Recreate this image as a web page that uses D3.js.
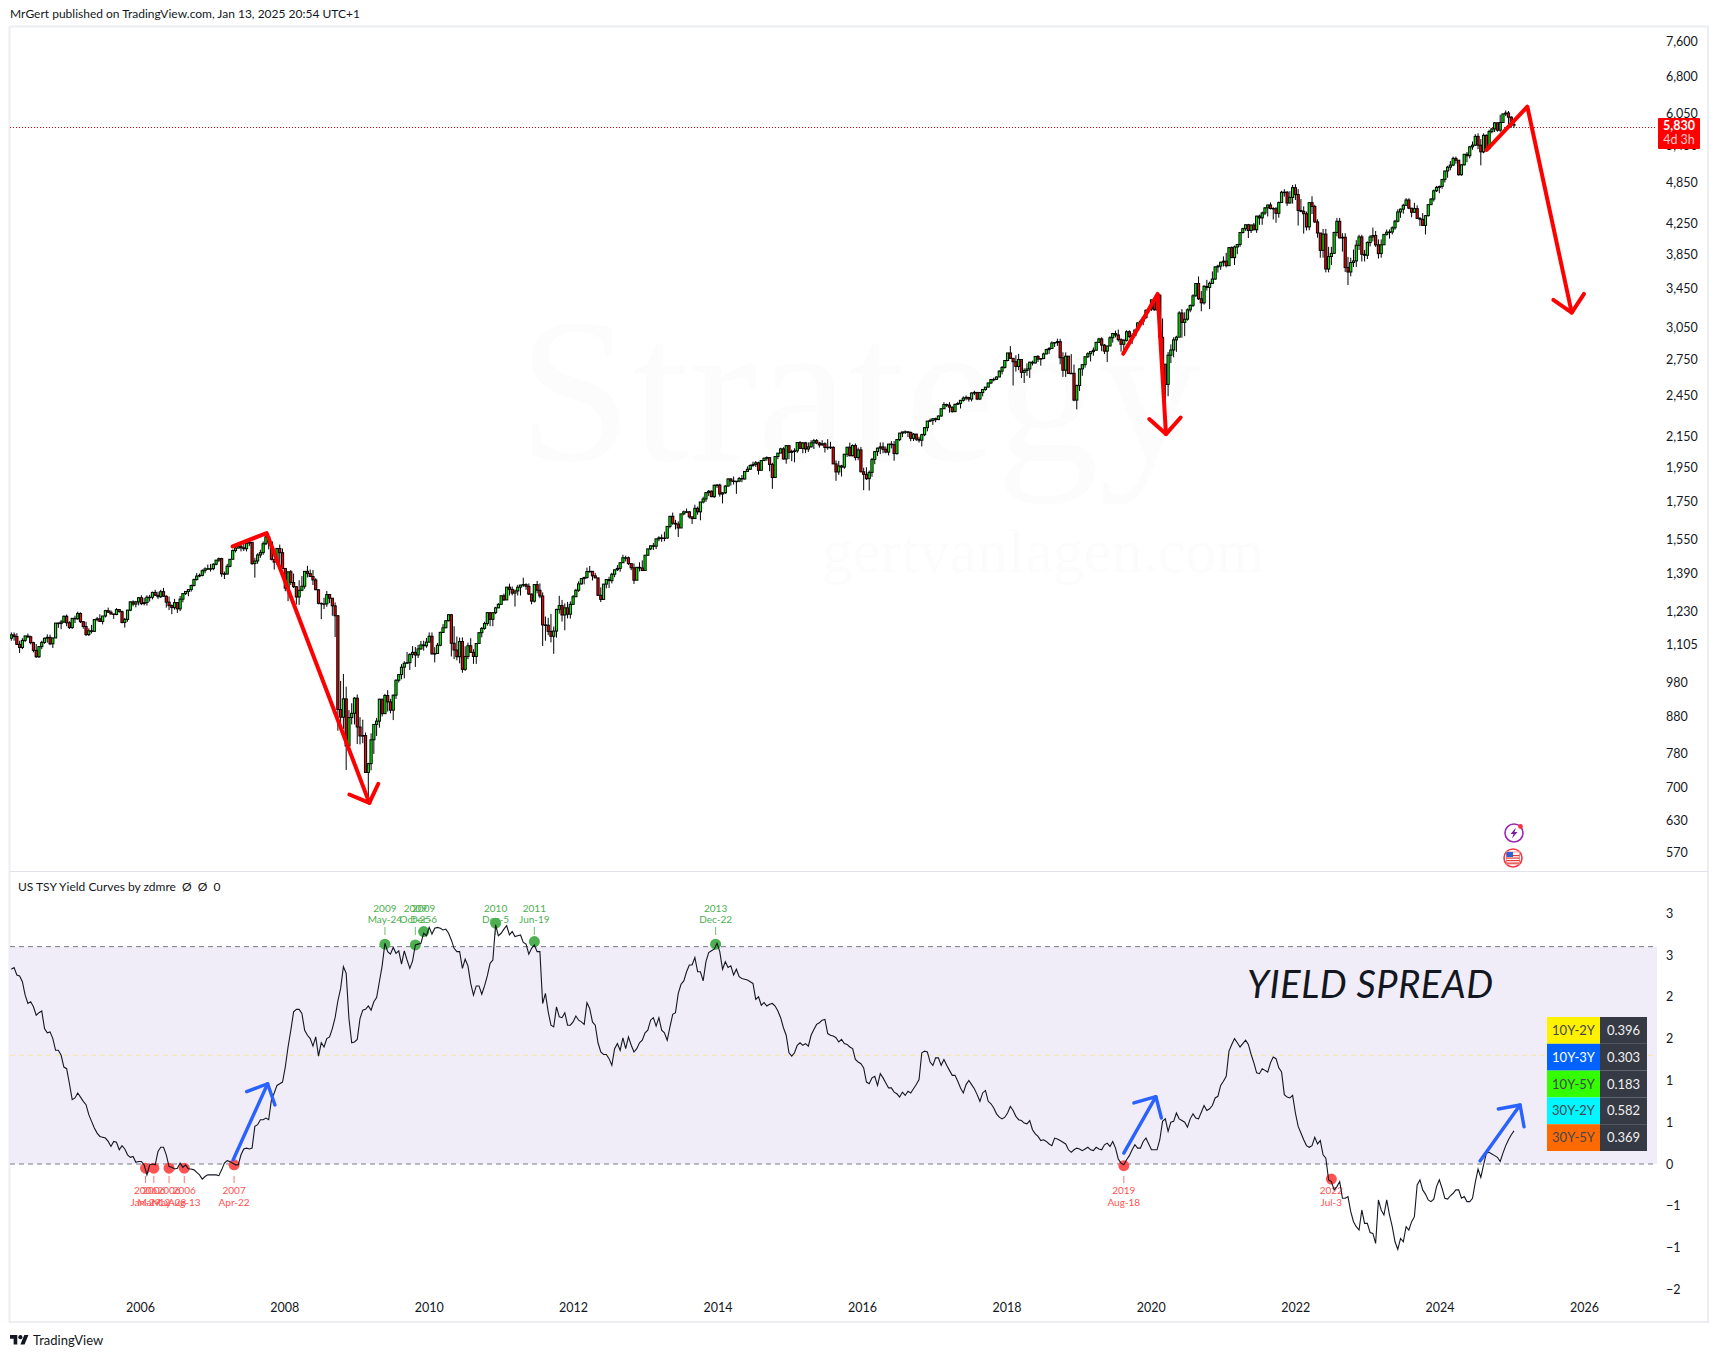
<!DOCTYPE html>
<html>
<head>
<meta charset="utf-8">
<script src="https://cdn.jsdelivr.net/npm/d3@7"></script>
<style>
  html, body { margin: 0; padding: 0; background: #fff; }
  text { font-family: Lato, "Noto Sans", sans-serif; }
  .axis text { fill: #131722; font-size: 12.5px; }
</style>
</head>
<body>
<div id="chart"></div>
<script>
// 2W SPX bars, first bar dated 2004-03-21, one row per calendar year
var firstBar = Date.UTC(2004, 2, 21);
var firstOpen = 1129;
var closes = [
1141,1135,1107,1096,1121,1137,1134,1113,1086,1064,1099,1114,1129,1132,1109,1130,1185,1183,1189,1211,1186,
1168,1203,1201,1222,1190,1172,1142,1156,1154,1198,1201,1191,1212,1233,1227,1220,1218,1237,1229,1187,1199,1235,1268,1259,1268,1285,
1261,1265,1287,1287,1307,1295,1289,1310,1291,1267,1253,1245,1265,1240,1279,1302,1311,1319,1336,1362,1377,1380,1401,1409,1410,1410,
1430,1449,1456,1387,1386,1421,1453,1494,1506,1515,1507,1503,1530,1534,1433,1445,1473,1484,1527,1561,1535,1453,1440,1504,1484,1411,
1325,1396,1349,1331,1288,1316,1333,1398,1388,1375,1360,1318,1262,1260,1260,1298,1283,1252,1213,899,877,930,800,876,888,932,
850,826,827,735,756,816,857,866,929,887,940,921,897,941,987,1005,1029,1042,1044,1072,1079,1070,1091,1105,1102,1115,
1136,1074,1075,1104,1150,1167,1194,1217,1111,1087,1064,1117,1022,1065,1102,1079,1065,1110,1149,1165,1183,1225,1199,1225,1244,1258,
1293,1276,1329,1320,1304,1313,1329,1338,1340,1333,1300,1271,1340,1316,1292,1178,1177,1154,1136,1155,1238,1253,1216,1244,1219,1258,
1289,1316,1343,1366,1371,1397,1398,1378,1369,1295,1278,1342,1362,1357,1385,1405,1411,1437,1460,1460,1433,1414,1359,1416,1413,1402,1472,
1502,1517,1515,1551,1556,1553,1555,1614,1667,1630,1626,1606,1680,1691,1691,1664,1655,1710,1691,1745,1762,1798,1806,1775,1841,1842,
1790,1797,1836,1878,1866,1865,1865,1881,1878,1924,1937,1961,1968,1978,1931,1992,2007,2011,1968,1887,2018,2040,2068,2002,2089,2045,
2051,2055,2110,2071,2108,2067,2081,2108,2123,2107,2094,2102,2077,2079,2078,1971,1921,1958,1951,2033,2079,2023,2090,2012,2061,1922,
1906,1880,1918,1999,2050,2073,2081,2065,2047,2100,2096,2037,2130,2175,2183,2184,2180,2139,2168,2133,2126,2164,2213,2260,2264,2277,
2271,2297,2351,2383,2378,2363,2329,2384,2391,2415,2432,2438,2425,2472,2477,2425,2476,2500,2519,2553,2581,2582,2602,2651,2683,2743,
2810,2762,2732,2691,2752,2641,2656,2670,2728,2721,2779,2755,2760,2801,2840,2850,2901,2905,2914,2767,2659,2781,2632,2633,2417,2532,
2670,2707,2776,2803,2822,2834,2907,2939,2881,2826,2873,2950,2990,2976,2932,2889,2926,3007,2961,2970,3023,3093,3110,3146,3221,3235,
3330,3226,3380,2954,2711,2541,2790,2837,2930,2955,3193,3098,3130,3225,3271,3373,3508,3341,3298,3477,3465,3510,3558,3699,3709,3756,
3768,3714,3935,3811,3943,3975,4129,4180,4233,4156,4230,4166,4352,4327,4395,4468,4509,4459,4455,4391,4545,4697,4698,4538,4620,4766,
4662,4432,4419,4385,4204,4543,4488,4272,4123,3901,4109,3675,3825,3863,4130,4280,4058,4067,3693,3640,3752,3771,3965,4072,3852,3840,
3999,4071,4090,3970,3861,3971,4105,4134,4136,4192,4282,4410,4450,4505,4582,4464,4406,4457,4320,4308,4224,4358,4514,4595,4719,4770,4784,
4891,5027,5089,5123,5234,5204,4967,5128,5303,5278,5431,5460,5615,5459,5344,5634,5408,5702,5751,5864,5728,5870,6032,6051,5970,5827,
5830];
var highs = [
1150,1150,1147,1120,1129,1138,1146,1138,1116,1108,1100,1120,1131,1143,1142,1131,1185,1187,1197,1214,1218,
1192,1203,1213,1229,1226,1193,1190,1165,1178,1199,1208,1219,1212,1236,1245,1234,1220,1243,1238,1233,1205,1236,1270,1274,1272,1288,
1295,1285,1295,1297,1310,1318,1310,1318,1326,1295,1290,1258,1280,1266,1292,1303,1312,1319,1340,1366,1390,1388,1407,1416,1429,1431,
1435,1450,1461,1460,1397,1432,1453,1499,1513,1533,1540,1538,1534,1556,1535,1460,1481,1498,1538,1565,1566,1535,1453,1507,1523,1504,
1411,1396,1404,1388,1333,1359,1377,1399,1423,1406,1404,1368,1320,1265,1285,1313,1300,1283,1266,1215,985,1007,967,897,917,935,
943,877,870,835,758,833,857,875,930,930,945,956,930,943,990,1007,1039,1049,1080,1076,1101,1098,1105,1119,1120,1130,
1150,1150,1097,1112,1153,1181,1194,1218,1220,1173,1135,1131,1132,1100,1113,1129,1090,1110,1150,1170,1190,1227,1227,1226,1248,1263,
1294,1302,1330,1344,1332,1319,1339,1339,1370,1346,1345,1302,1340,1356,1345,1307,1210,1205,1220,1172,1240,1293,1276,1262,1268,1270,
1296,1322,1354,1368,1374,1415,1422,1398,1391,1369,1328,1343,1363,1374,1392,1405,1426,1438,1474,1470,1466,1425,1434,1416,1439,1448,1473,
1503,1518,1531,1552,1564,1573,1587,1614,1667,1687,1648,1640,1680,1698,1709,1696,1664,1730,1720,1745,1775,1798,1813,1810,1845,1849,
1850,1798,1842,1883,1883,1893,1865,1891,1902,1924,1955,1968,1985,1989,1985,1992,2011,2019,2010,1978,2019,2041,2075,2079,2094,2093,
2063,2072,2111,2120,2114,2115,2111,2126,2135,2134,2115,2126,2111,2133,2115,2085,1993,1990,1965,2035,2080,2110,2098,2104,2076,2081,
1947,1950,1930,2009,2052,2076,2111,2111,2084,2100,2120,2120,2132,2176,2178,2194,2186,2185,2175,2169,2150,2170,2214,2260,2278,2282,
2285,2301,2352,2401,2390,2401,2367,2391,2403,2416,2446,2453,2440,2478,2490,2475,2481,2500,2519,2555,2582,2597,2607,2658,2695,2743,
2810,2872,2754,2789,2802,2742,2675,2718,2732,2742,2779,2790,2765,2812,2848,2863,2916,2906,2941,2940,2816,2815,2746,2800,2708,2540,
2675,2708,2776,2816,2822,2860,2911,2949,2954,2892,2875,2964,2996,3018,3028,2945,2940,3021,3022,2993,3027,3098,3127,3158,3229,3247,
3330,3338,3394,3394,3138,2700,2818,2888,2954,2969,3211,3233,3200,3240,3280,3390,3510,3588,3425,3490,3550,3530,3646,3708,3725,3760,
3826,3870,3937,3950,3960,3981,4130,4194,4238,4245,4234,4258,4356,4372,4415,4480,4513,4545,4478,4480,4560,4719,4743,4715,4713,4808,
4818,4744,4595,4490,4416,4546,4637,4513,4308,4096,4177,4177,3945,3945,4140,4326,4326,4120,4120,3820,3810,3910,4030,4100,4100,3906,
4015,4095,4195,4150,4040,4040,4110,4169,4170,4212,4300,4448,4458,4527,4608,4607,4464,4540,4505,4340,4394,4365,4522,4610,4738,4793,4800,
4903,5030,5111,5190,5264,5265,5200,5134,5303,5342,5447,5523,5655,5670,5566,5670,5650,5734,5767,5878,5862,6017,6044,6100,6090,5990,
5870];
var lows = [
1120,1120,1105,1077,1090,1115,1129,1107,1079,1060,1060,1090,1109,1113,1104,1094,1130,1167,1162,1185,1173,
1163,1163,1185,1198,1185,1164,1137,1137,1146,1154,1191,1191,1180,1206,1224,1217,1201,1215,1225,1184,1168,1190,1231,1250,1246,1254,
1255,1254,1253,1269,1278,1292,1280,1284,1289,1245,1235,1219,1237,1224,1231,1266,1296,1291,1310,1332,1357,1372,1376,1389,1404,1397,
1403,1425,1440,1374,1364,1384,1416,1452,1485,1504,1490,1492,1490,1515,1427,1370,1432,1460,1474,1520,1500,1448,1406,1427,1435,1411,
1312,1271,1338,1326,1257,1256,1312,1322,1371,1373,1338,1317,1258,1200,1239,1248,1263,1213,1133,840,853,845,741,801,857,857,
805,804,807,735,667,740,780,826,848,879,886,893,888,869,930,980,990,993,1040,1020,1059,1030,1060,1088,1085,1095,
1114,1071,1045,1075,1100,1148,1167,1191,1065,1056,1052,1042,1011,1017,1056,1078,1040,1040,1115,1132,1160,1175,1173,1173,1219,1243,
1256,1272,1276,1294,1295,1249,1294,1294,1330,1318,1296,1258,1265,1303,1283,1101,1120,1140,1114,1074,1131,1221,1191,1158,1203,1202,
1258,1290,1309,1340,1341,1365,1393,1358,1369,1292,1267,1279,1324,1325,1345,1372,1400,1396,1437,1443,1427,1403,1343,1359,1398,1399,1402,
1470,1496,1497,1501,1539,1536,1539,1552,1604,1622,1598,1560,1605,1672,1684,1655,1627,1655,1675,1646,1737,1746,1778,1772,1768,1825,
1775,1737,1790,1835,1839,1845,1791,1859,1859,1875,1925,1936,1952,1952,1905,1932,1990,1990,1925,1820,1886,2001,2040,1999,1972,2001,
1988,1981,2042,2067,2039,2040,2048,2077,2067,2099,2076,2090,2044,2062,2067,1970,1867,1903,1893,1940,2015,2020,2019,1993,1994,1918,
1812,1872,1810,1891,1969,2022,2034,2039,2039,2025,2071,1991,2030,2120,2147,2168,2147,2119,2120,2120,2110,2084,2154,2187,2252,2233,
2252,2267,2292,2350,2364,2322,2323,2328,2379,2353,2405,2415,2405,2407,2455,2417,2417,2446,2491,2520,2544,2566,2582,2605,2624,2673,
2736,2759,2532,2647,2659,2593,2553,2612,2594,2700,2718,2730,2698,2755,2802,2801,2853,2864,2874,2710,2603,2603,2631,2631,2408,2346,
2488,2612,2681,2765,2735,2785,2835,2900,2826,2800,2729,2873,2904,2953,2914,2822,2826,2914,2945,2892,2971,3012,3091,3070,3135,3195,
3215,3215,3214,2855,2480,2192,2447,2720,2771,2820,2969,2950,2965,3116,3200,3255,3364,3329,3210,3280,3430,3233,3510,3550,3633,3664,
3705,3694,3725,3805,3723,3853,3944,4118,4152,4057,4123,4160,4125,4233,4233,4367,4347,4445,4305,4260,4329,4540,4631,4496,4531,4530,
4582,4222,4406,4115,4157,4160,4380,4257,4062,3810,3810,3636,3636,3722,3885,4079,4058,3885,3640,3491,3590,3699,3700,3905,3764,3764,
3794,3950,4015,3945,3800,3810,3980,4090,4050,4104,4166,4265,4328,4385,4515,4449,4336,4400,4315,4217,4216,4104,4346,4510,4560,4700,4682,
4750,4845,4920,5038,5105,5146,4953,4953,5114,5170,5234,5380,5447,5390,5119,5320,5402,5406,5670,5694,5700,5696,5870,5990,5832,5773,
5775];
var spread = [
2.33,2.35,2.26,2.25,2.18,2.02,1.92,1.94,1.88,1.78,1.81,1.83,1.62,1.57,1.58,1.50,1.36,1.36,1.30,1.16,1.14,
0.96,0.77,0.79,0.85,0.80,0.75,0.71,0.59,0.51,0.43,0.37,0.33,0.32,0.31,0.27,0.21,0.27,0.26,0.17,0.22,0.18,0.11,0.08,0.09,0.02,0.03,
0.03,-0.01,-0.13,-0.01,0,-0.01,0.15,0.20,0.20,0.11,-0.03,-0.04,-0.06,-0.05,0.01,-0.04,-0.01,-0.06,-0.06,-0.07,-0.10,-0.13,-0.18,-0.15,-0.13,-0.13,
-0.13,-0.13,-0.14,-0.07,0.01,0.04,0.03,0.01,-0.01,-0.01,0.11,0.18,0.19,0.18,0.19,0.45,0.47,0.53,0.53,0.55,0.53,0.77,0.85,0.94,0.96,0.98,
1.16,1.40,1.60,1.82,1.85,1.85,1.80,1.60,1.54,1.50,1.41,1.52,1.29,1.45,1.40,1.50,1.52,1.62,1.75,1.95,2.10,2.36,2.28,1.74,1.45,1.46,
1.49,1.74,1.84,1.85,1.89,1.84,1.94,1.99,2.18,2.37,2.64,2.54,2.51,2.59,2.52,2.55,2.39,2.55,2.44,2.34,2.43,2.62,2.63,2.64,2.76,2.73,
2.83,2.75,2.82,2.83,2.82,2.80,2.81,2.76,2.68,2.58,2.54,2.54,2.34,2.45,2.37,2.16,2.02,2.13,2.13,2.03,2.13,2.25,2.40,2.44,2.86,2.73,
2.76,2.81,2.85,2.74,2.78,2.72,2.73,2.74,2.65,2.63,2.51,2.58,2.62,2.54,2.54,1.92,2.04,1.82,1.66,1.64,1.88,1.76,1.75,1.81,1.66,1.66,
1.70,1.77,1.72,1.70,1.67,1.93,1.86,1.70,1.66,1.45,1.34,1.31,1.31,1.26,1.18,1.38,1.44,1.36,1.51,1.38,1.52,1.42,1.34,1.38,1.45,1.48,1.57,
1.60,1.72,1.75,1.65,1.75,1.60,1.57,1.48,1.64,1.79,1.81,2.04,2.15,2.19,2.30,2.38,2.38,2.47,2.30,2.30,2.19,2.42,2.53,2.55,2.57,2.64,
2.54,2.33,2.42,2.35,2.37,2.26,2.33,2.24,2.22,2.21,2.20,2.18,2.16,1.97,2.00,1.90,1.93,1.89,1.91,1.92,1.89,1.83,1.75,1.63,1.54,1.33,
1.29,1.33,1.42,1.45,1.42,1.44,1.41,1.54,1.61,1.67,1.69,1.72,1.73,1.56,1.54,1.53,1.51,1.46,1.49,1.44,1.43,1.40,1.38,1.25,1.22,1.20,
1.15,0.98,0.96,1.03,1.05,0.94,1.08,1.03,0.97,0.91,0.91,0.86,0.84,0.80,0.86,0.82,0.87,0.85,0.90,0.95,1.01,1.33,1.35,1.34,1.22,1.18,
1.27,1.27,1.18,1.25,1.18,1.12,1.06,1.06,0.99,0.91,0.85,0.95,1.00,0.95,0.90,0.83,0.75,0.85,0.88,0.75,0.72,0.67,0.60,0.56,0.54,0.56,
0.61,0.69,0.64,0.57,0.53,0.52,0.49,0.48,0.52,0.41,0.36,0.33,0.28,0.29,0.27,0.24,0.22,0.31,0.30,0.28,0.26,0.24,0.17,0.14,0.17,0.19,
0.18,0.16,0.18,0.20,0.17,0.16,0.20,0.18,0.17,0.23,0.25,0.21,0.27,0.19,0.06,0.01,-0.01,0.05,0.10,0.17,0.23,0.19,0.19,0.27,0.31,0.24,
0.17,0.17,0.17,0.29,0.51,0.54,0.39,0.50,0.51,0.61,0.54,0.52,0.50,0.44,0.54,0.60,0.55,0.54,0.62,0.70,0.64,0.66,0.70,0.79,0.81,0.94,
0.99,1.05,1.35,1.43,1.50,1.45,1.40,1.44,1.48,1.43,1.31,1.21,1.09,1.08,1.14,1.12,1.10,1.21,1.28,1.26,1.15,1.10,0.83,0.80,0.79,0.82,
0.61,0.45,0.37,0.29,0.22,0.20,0.22,0.32,0.24,0.28,0.11,0.07,-0.19,-0.21,-0.31,-0.27,-0.21,-0.41,-0.41,-0.39,-0.57,-0.69,-0.75,-0.79,-0.55,-0.71,
-0.71,-0.82,-0.83,-0.95,-0.43,-0.55,-0.61,-0.43,-0.61,-0.75,-0.93,-1.02,-0.89,-0.93,-0.75,-0.79,-0.69,-0.63,-0.25,-0.19,-0.31,-0.36,-0.43,-0.45,-0.42,-0.27,-0.19,
-0.29,-0.41,-0.42,-0.38,-0.35,-0.31,-0.31,-0.41,-0.39,-0.45,-0.45,-0.41,-0.22,-0.06,-0.16,-0.01,0.13,0.14,0.12,0.10,0.08,0.03,0.13,0.22,0.29,0.35,
0.396];

var priceTicks = [7600,6800,6050,5450,4850,4250,3850,3450,3050,2750,2450,2150,1950,1750,1550,1390,1230,1105,980,880,780,700,630,570];
var spreadTicks = [3,2.5,2,1.5,1,0.5,0,-0.5,-1,-1.5];
var spreadTickLabels = ["3","3","2","2","1","1","0","\u22121","\u22121","\u22122"];
var yearTicks = [2006,2008,2010,2012,2014,2016,2018,2020,2022,2024,2026];
var bandTop = 2.6, bandMid = 1.3, bandBottom = 0;

// signal markers: date, year label, day label, value on the spread axis
var highSignals = [
  ["2009-05-24","2009","May-24",2.63], ["2009-10-25","2009","Oct-25",2.62], ["2009-12-06","2009","Dec-6",2.78],
  ["2010-12-05","2010","Dec-5",2.88], ["2011-06-19","2011","Jun-19",2.66], ["2013-12-22","2013","Dec-22",2.63]
];
var lowSignals = [
  ["2006-01-29","2006","Jan-29",-0.05], ["2006-03-12","2006","Mar-12",-0.05], ["2006-05-28","2006","May-28",-0.05],
  ["2006-08-13","2006","Aug-13",-0.05], ["2007-04-22","2007","Apr-22",-0.01], ["2019-08-18","2019","Aug-18",-0.02],
  ["2022-07-03","2022","Jul-3",-0.18]
];

// drawn arrows: decimal year, axis value
var priceArrows = [
  [[2007.284,1514],[2007.755,1580],[2009.176,667]],
  [[2019.619,2802],[2020.096,3394],[2020.211,2168]],
  [[2024.652,5377],[2025.215,6174],[2025.83,3197]]
];
var priceHeads = [
  [[2008.899,685],[2009.176,667],[2009.30,709]],
  [[2019.98,2275],[2020.211,2168],[2020.414,2286]],
  [[2025.575,3330],[2025.83,3197],[2026.0,3394]]
];
var spreadArrows = [
  [[2007.292,0.05],[2007.769,0.96]],
  [[2019.627,0.13],[2020.072,0.805]],
  [[2024.56,0.036],[2025.114,0.706]]
];
var spreadHeads = [
  [[2007.478,0.865],[2007.769,0.96],[2007.87,0.706]],
  [[2019.767,0.73],[2020.072,0.805],[2020.148,0.55]],
  [[2024.813,0.658],[2025.114,0.706],[2025.169,0.446]]
];

var tableNames = ["10Y-2Y","10Y-3Y","10Y-5Y","30Y-2Y","30Y-5Y"];
var tableValues = ["0.396","0.303","0.183","0.582","0.369"];
var tableColors = ["#fff200","#0062ff","#33ff00","#00f7ff","#ff6a00"];
var tableTextColors = ["#434651","#ffffff","#434651","#434651","#434651"];

var svg = d3.select('#chart').append('svg')
  .attr('width', 1719)
  .attr('height', 1358)
  .style('display', 'block');

// scales
var yearDate = function (y) {
  var whole = Math.floor(y);
  var a = Date.UTC(whole, 0, 1), b = Date.UTC(whole + 1, 0, 1);
  return new Date(a + (y - whole) * (b - a));
};
var x = d3.scaleUtc().domain([yearDate(2006), yearDate(2026)]).range([140, 1584]);
var yPrice = d3.scaleLog().domain([570, 7600]).range([852, 41.7]);
var ySpread = d3.scaleLinear().domain([-1.5, 3]).range([1289.4, 913.2]);
var barX = function (i) { return x(new Date(firstBar + i * 14 * 86400000)); };

// clip to the two panes
var defs = svg.append('defs');
defs.append('clipPath').attr('id', 'pricePane').append('rect')
  .attr('x', 10).attr('y', 27).attr('width', 1647).attr('height', 844);
defs.append('clipPath').attr('id', 'spreadPane').append('rect')
  .attr('x', 10).attr('y', 871).attr('width', 1647).attr('height', 420);

// frame
var frame = svg.append('g');
frame.append('rect').attr('x', 9.5).attr('y', 26.5).attr('width', 1698.5).attr('height', 1295.5)
  .attr('fill', 'none').attr('stroke', '#eceef3').attr('stroke-width', 2);
frame.append('line').attr('x1', 10).attr('x2', 1708).attr('y1', 871.5).attr('y2', 871.5)
  .attr('stroke', '#e0e3eb').attr('stroke-width', 1);

svg.append('text').attr('x', 10).attr('y', 18).attr('font-size', 12).attr('fill', '#131722')
  .text('MrGert published on TradingView.com, Jan 13, 2025 20:54 UTC+1');

// watermarks
var pricePane = svg.append('g').attr('clip-path', 'url(#pricePane)');
pricePane.append('text').attr('x', 518).attr('y', 460)
  .style('font-family', '"Liberation Serif", serif').attr('font-size', 205).attr('fill', '#fcfcfc').text('Strategy');
pricePane.append('text').attr('x', 822).attr('y', 572)
  .style('font-family', '"Liberation Serif", serif').attr('font-size', 62).attr('fill', '#fcfcfc').text('gertvanlagen.com');

// last price line
pricePane.append('line').attr('x1', 10).attr('x2', 1657)
  .attr('y1', Math.round(yPrice(5785)) + 0.5).attr('y2', Math.round(yPrice(5785)) + 0.5)
  .attr('stroke', '#e00000').attr('stroke-dasharray', '1 2');

// candles, each bar opens on the close before it
var bars = closes.map(function (c, i) {
  return { i: i, o: i ? closes[i - 1] : firstOpen, c: c, h: highs[i], l: lows[i] };
});
var candles = pricePane.append('g');
candles.selectAll('line').data(bars).join('line')
  .attr('x1', function (d) { return barX(d.i); })
  .attr('x2', function (d) { return barX(d.i); })
  .attr('y1', function (d) { return yPrice(d.h); })
  .attr('y2', function (d) { return yPrice(d.l); })
  .attr('stroke', '#000').attr('stroke-width', 1);
candles.selectAll('rect').data(bars).join('rect')
  .attr('x', function (d) { return barX(d.i) - 1.1; })
  .attr('width', 2.2)
  .attr('y', function (d) { return yPrice(Math.max(d.o, d.c)); })
  .attr('height', function (d) { return Math.max(0.5, Math.abs(yPrice(d.o) - yPrice(d.c))); })
  .attr('fill', function (d) { return d.c >= d.o ? '#00ff00' : '#ff0000'; })
  .attr('stroke', '#000').attr('stroke-width', 1);

// arrows on the price pane
var priceLine = d3.line()
  .x(function (d) { return x(yearDate(d[0])); })
  .y(function (d) { return yPrice(d[1]); });
pricePane.selectAll('path.arrow').data(priceArrows.concat(priceHeads)).join('path')
  .attr('class', 'arrow').attr('d', priceLine)
  .attr('fill', 'none').attr('stroke', '#ff0000').attr('stroke-width', 4)
  .attr('stroke-linecap', 'round').attr('stroke-linejoin', 'round');

// icons under the last bar
var boltIcon = svg.append('g').attr('transform', 'translate(1514,833)');
boltIcon.append('circle').attr('r', 9).attr('fill', '#fff').attr('stroke', '#9c27b0').attr('stroke-width', 1.6);
boltIcon.append('path').attr('d', 'M2,-5.5 L-3.5,1 L-0.5,1 L-2,5.5 L3.5,-1 L0.5,-1 Z').attr('fill', '#7b1fa2');
boltIcon.append('circle').attr('cx', 6.5).attr('cy', -6.5).attr('r', 2.4).attr('fill', '#f23645');
var flagIcon = svg.append('g').attr('transform', 'translate(1513,858)');
flagIcon.append('circle').attr('r', 9).attr('fill', '#fff').attr('stroke', '#f23645').attr('stroke-width', 1.6);
flagIcon.append('rect').attr('x', -6.5).attr('y', -6).attr('width', 13).attr('height', 12).attr('fill', '#fff').attr('stroke', '#ef9a9a');
d3.range(4).forEach(function (k) {
  flagIcon.append('rect').attr('x', -6.5).attr('y', -3 + k * 2.5).attr('width', 13).attr('height', 1.2).attr('fill', '#e53935');
});
flagIcon.append('rect').attr('x', -6.5).attr('y', -6).attr('width', 6.5).attr('height', 5).attr('fill', '#2f5fd0');

// spread pane
var spreadPane = svg.append('g').attr('clip-path', 'url(#spreadPane)');
spreadPane.append('rect').attr('x', 10).attr('width', 1647)
  .attr('y', ySpread(bandTop)).attr('height', ySpread(bandBottom) - ySpread(bandTop))
  .attr('fill', '#f0edf8');
[bandTop, bandBottom].forEach(function (v) {
  spreadPane.append('line').attr('x1', 10).attr('x2', 1657).attr('y1', ySpread(v)).attr('y2', ySpread(v))
    .attr('stroke', '#787b86').attr('stroke-dasharray', '5 4');
});
spreadPane.append('line').attr('x1', 10).attr('x2', 1657).attr('y1', ySpread(bandMid)).attr('y2', ySpread(bandMid))
  .attr('stroke', '#f7e7a6').attr('stroke-dasharray', '5 4');

svg.append('text').attr('x', 18).attr('y', 891).attr('font-size', 12).attr('fill', '#131722').attr('xml:space', 'preserve')
  .text('US TSY Yield Curves by zdmre  \u00d8  \u00d8  0');

var drawSignals = function (list, color, tickTop, tickBottom, yearY, dayY) {
  var g = spreadPane.append('g');
  g.selectAll('circle').data(list).join('circle')
    .attr('cx', function (d) { return x(new Date(d[0])); })
    .attr('cy', function (d) { return ySpread(d[3]); })
    .attr('r', 5.5).attr('fill', color);
  g.selectAll('line').data(list).join('line')
    .attr('x1', function (d) { return x(new Date(d[0])); })
    .attr('x2', function (d) { return x(new Date(d[0])); })
    .attr('y1', tickTop).attr('y2', tickBottom)
    .attr('stroke', color).attr('stroke-opacity', 0.8);
  g.selectAll('text.year').data(list).join('text').attr('class', 'year')
    .attr('x', function (d) { return x(new Date(d[0])); }).attr('y', yearY)
    .attr('text-anchor', 'middle').attr('font-size', 10).attr('fill', color)
    .text(function (d) { return d[1]; });
  g.selectAll('text.day').data(list).join('text').attr('class', 'day')
    .attr('x', function (d) { return x(new Date(d[0])); }).attr('y', dayY)
    .attr('text-anchor', 'middle').attr('font-size', 10).attr('fill', color)
    .text(function (d) { return d[2]; });
};
drawSignals(highSignals, '#4caf50', 927, 935, 912, 923);
drawSignals(lowSignals, '#ff5252', 1176, 1183, 1194, 1206);

var spreadLine = d3.line()
  .x(function (d, i) { return barX(i); })
  .y(function (d) { return ySpread(d); });
spreadPane.append('path').datum(spread).attr('d', spreadLine)
  .attr('fill', 'none').attr('stroke', '#131722').attr('stroke-width', 1.1);

var spreadArrow = d3.line()
  .x(function (d) { return x(yearDate(d[0])); })
  .y(function (d) { return ySpread(d[1]); });
spreadPane.selectAll('path.arrow').data(spreadArrows.concat(spreadHeads)).join('path')
  .attr('class', 'arrow').attr('d', spreadArrow)
  .attr('fill', 'none').attr('stroke', '#2962ff').attr('stroke-width', 3.4)
  .attr('stroke-linecap', 'round').attr('stroke-linejoin', 'round');

svg.append('text').attr('x', 1247).attr('y', 998)
  .attr('font-size', 38).attr('font-style', 'italic').attr('letter-spacing', 0.5).attr('fill', '#131722')
  .text('YIELD SPREAD');

// status table
var rowH = 26.8, table = svg.append('g').attr('transform', 'translate(1547,1017)');
tableNames.forEach(function (name, i) {
  var row = table.append('g').attr('transform', 'translate(0,' + i * rowH + ')');
  row.append('rect').attr('width', 53).attr('height', rowH).attr('fill', tableColors[i]);
  row.append('rect').attr('x', 53).attr('width', 47).attr('height', rowH).attr('fill', '#363a45');
  row.append('text').attr('x', 26.5).attr('y', 18).attr('text-anchor', 'middle').attr('font-size', 13)
    .attr('fill', tableTextColors[i]).text(name);
  row.append('text').attr('x', 76.5).attr('y', 18).attr('text-anchor', 'middle').attr('font-size', 13)
    .attr('fill', '#f0f0f0').text(tableValues[i]);
});

// axes
var priceAxis = svg.append('g').attr('class', 'axis').attr('transform', 'translate(1658,0)')
  .call(d3.axisRight(yPrice).tickValues(priceTicks).tickFormat(d3.format(',')).tickSize(0).tickPadding(8));
priceAxis.select('.domain').remove();

var spreadAxis = svg.append('g').attr('class', 'axis').attr('transform', 'translate(1658,0)')
  .call(d3.axisRight(ySpread).tickValues(spreadTicks)
    .tickFormat(function (d, i) { return spreadTickLabels[i]; }).tickSize(0).tickPadding(8));
spreadAxis.select('.domain').remove();

var timeAxis = svg.append('g').attr('class', 'axis').attr('transform', 'translate(0,1303)')
  .call(d3.axisBottom(x).tickValues(yearTicks.map(yearDate)).tickFormat(d3.utcFormat('%Y')).tickSize(0).tickPadding(0));
timeAxis.select('.domain').remove();

// last price tag
var tag = svg.append('g').attr('transform', 'translate(1658,118)');
tag.append('rect').attr('width', 42).attr('height', 31).attr('rx', 1).attr('fill', '#ff0000');
tag.append('text').attr('x', 21).attr('y', 12).attr('text-anchor', 'middle').attr('font-size', 12.5)
  .attr('font-weight', 700).attr('fill', '#fff').text('5,830');
tag.append('text').attr('x', 21).attr('y', 26).attr('text-anchor', 'middle').attr('font-size', 12.5)
  .attr('fill', '#ffc9c9').text('4d 3h');

// footer logo
var logo = svg.append('g').attr('transform', 'translate(10,1333) scale(0.52)').attr('fill', '#131722');
logo.append('path').attr('d', 'M14 22H7V11H0V4h14v18zM28 22h-8l7.5-18h8L28 22z');
logo.append('circle').attr('cx', 20).attr('cy', 8).attr('r', 4);
svg.append('text').attr('x', 33).attr('y', 1345).attr('font-size', 13).attr('fill', '#131722').text('TradingView');
</script>
</body>
</html>
